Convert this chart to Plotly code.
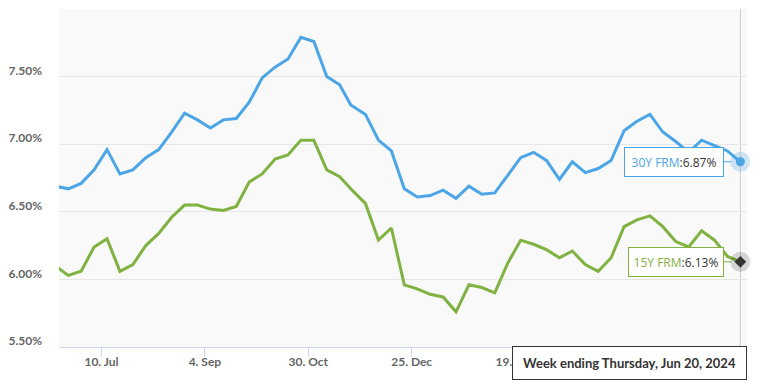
import plotly.graph_objects as go

weeks = [
    "2023-06-15", "2023-06-22", "2023-06-29", "2023-07-06", "2023-07-13", "2023-07-20", "2023-07-27",
    "2023-08-03", "2023-08-10", "2023-08-17", "2023-08-24", "2023-08-31", "2023-09-07", "2023-09-14",
    "2023-09-21", "2023-09-28", "2023-10-05", "2023-10-12", "2023-10-19", "2023-10-26", "2023-11-02",
    "2023-11-09", "2023-11-16", "2023-11-22", "2023-11-30", "2023-12-07", "2023-12-14", "2023-12-21",
    "2023-12-28", "2024-01-04", "2024-01-11", "2024-01-18", "2024-01-25", "2024-02-01", "2024-02-08",
    "2024-02-15", "2024-02-22", "2024-02-29", "2024-03-07", "2024-03-14", "2024-03-21", "2024-03-28",
    "2024-04-04", "2024-04-11", "2024-04-18", "2024-04-25", "2024-05-02", "2024-05-09", "2024-05-16",
    "2024-05-23", "2024-05-30", "2024-06-06", "2024-06-13", "2024-06-20",
]
frm30 = [
    6.69, 6.67, 6.71, 6.81, 6.96, 6.78, 6.81, 6.90, 6.96, 7.09, 7.23, 7.18, 7.12, 7.18,
    7.19, 7.31, 7.49, 7.57, 7.63, 7.79, 7.76, 7.50, 7.44, 7.29, 7.22, 7.03, 6.95, 6.67,
    6.61, 6.62, 6.66, 6.60, 6.69, 6.63, 6.64, 6.77, 6.90, 6.94, 6.88, 6.74, 6.87, 6.79,
    6.82, 6.88, 7.10, 7.17, 7.22, 7.09, 7.02, 6.94, 7.03, 6.99, 6.95, 6.87,
]
frm15 = [
    6.10, 6.03, 6.06, 6.24, 6.30, 6.06, 6.11, 6.25, 6.34, 6.46, 6.55, 6.55, 6.52, 6.51,
    6.54, 6.72, 6.78, 6.89, 6.92, 7.03, 7.03, 6.81, 6.76, 6.67, 6.56, 6.29, 6.38, 5.96,
    5.93, 5.89, 5.87, 5.76, 5.96, 5.94, 5.90, 6.12, 6.29, 6.26, 6.22, 6.16, 6.21, 6.11,
    6.06, 6.16, 6.39, 6.44, 6.47, 6.39, 6.28, 6.24, 6.36, 6.29, 6.17, 6.13,
]
series_names = ["30Y FRM", "15Y FRM"]
x_tick_dates = ["2023-07-10", "2023-09-04", "2023-10-30", "2023-12-25", "2024-02-19"]
x_tick_labels = ["10. Jul", "4. Sep", "30. Oct", "25. Dec", "19. Feb"]
y_tick_values = [5.5, 6.0, 6.5, 7.0, 7.5, 8.0]
y_tick_labels = ["5.50%", "6.00%", "6.50%", "7.00%", "7.50%", ""]
hover_title = "Week ending Thursday, Jun 20, 2024"

BLUE = "#4ba5e6"
GREEN = "#7fb241"

fig = go.Figure()
fig.add_trace(go.Scatter(x=weeks, y=frm30, mode="lines", name=series_names[0],
                         line=dict(color=BLUE, width=3)))
fig.add_trace(go.Scatter(x=weeks, y=frm15, mode="lines", name=series_names[1],
                         line=dict(color=GREEN, width=3)))

last_x = weeks[-1]
fig.add_trace(go.Scatter(x=[last_x], y=[frm30[-1]], mode="markers",
                         marker=dict(size=20, color="rgba(75,165,230,0.25)"), cliponaxis=False))
fig.add_trace(go.Scatter(x=[last_x], y=[frm30[-1]], mode="markers",
                         marker=dict(size=9, color=BLUE), cliponaxis=False))
fig.add_trace(go.Scatter(x=[last_x], y=[frm15[-1]], mode="markers",
                         marker=dict(size=20, color="rgba(0,0,0,0.15)"), cliponaxis=False))
fig.add_trace(go.Scatter(x=[last_x], y=[frm15[-1]], mode="markers",
                         marker=dict(size=9, color="#333333", symbol="diamond"), cliponaxis=False))

fig.add_shape(type="line", x0=last_x, x1=last_x, y0=0, y1=1, xref="x", yref="paper",
              line=dict(color="#cccccc", width=1), layer="below")

for name, vals, color, ax, w in [(series_names[0], frm30, BLUE, -66, 88),
                                   (series_names[1], frm15, GREEN, -64, 84)]:
    fig.add_annotation(
        x=last_x, y=vals[-1], xref="x", yref="y",
        text=f"<span style='color:{color}'>{name}</span>:{vals[-1]:.2f}%",
        showarrow=True, ax=ax, ay=0, arrowhead=0, arrowwidth=1, arrowcolor=color,
        standoff=9, width=w, height=18, borderpad=5,
        bgcolor="white", bordercolor=color, borderwidth=1,
        font=dict(family="Open Sans", size=12, color="#333333"),
    )

fig.add_annotation(
    x=0.8288, y=-0.047, xref="paper", yref="paper", xanchor="center", yanchor="middle",
    text=f"<b>{hover_title}</b>", showarrow=False, width=223, height=22, borderpad=5,
    bgcolor="white", bordercolor="#333333", borderwidth=1,
    font=dict(family="Lato", size=13, color="#333333"),
)

fig.update_layout(
    width=759, height=387,
    margin=dict(l=59, r=12, t=9, b=40, autoexpand=False),
    paper_bgcolor="white", plot_bgcolor="#f9f9f9",
    showlegend=False, hovermode=False,
    xaxis=dict(
        type="date", range=["2023-06-17", "2024-06-23 14:00"], automargin=False,
        tickvals=x_tick_dates, ticktext=x_tick_labels,
        showgrid=False, zeroline=False,
        showline=True, linecolor="#ccd6eb", linewidth=1,
        ticks="outside", ticklen=9, tickcolor="#ccd6eb",
        tickfont=dict(family="Lato", size=12, color="#666666", weight="bold"),
        ticklabelstandoff=-5,
    ),
    yaxis=dict(
        range=[5.5, 8.0], tickvals=y_tick_values, ticktext=y_tick_labels, automargin=False,
        showgrid=True, gridcolor="#e6e6e6", gridwidth=1, zeroline=False,
        showline=False, ticks="",
        tickfont=dict(family="Lato", size=12, color="#666666", weight="bold"),
        ticklabelshift=-6, ticklabelstandoff=16,
    ),
)

fig.write_html("out.html", config={"displayModeBar": False},
               post_script="document.body.style.margin='0';")
